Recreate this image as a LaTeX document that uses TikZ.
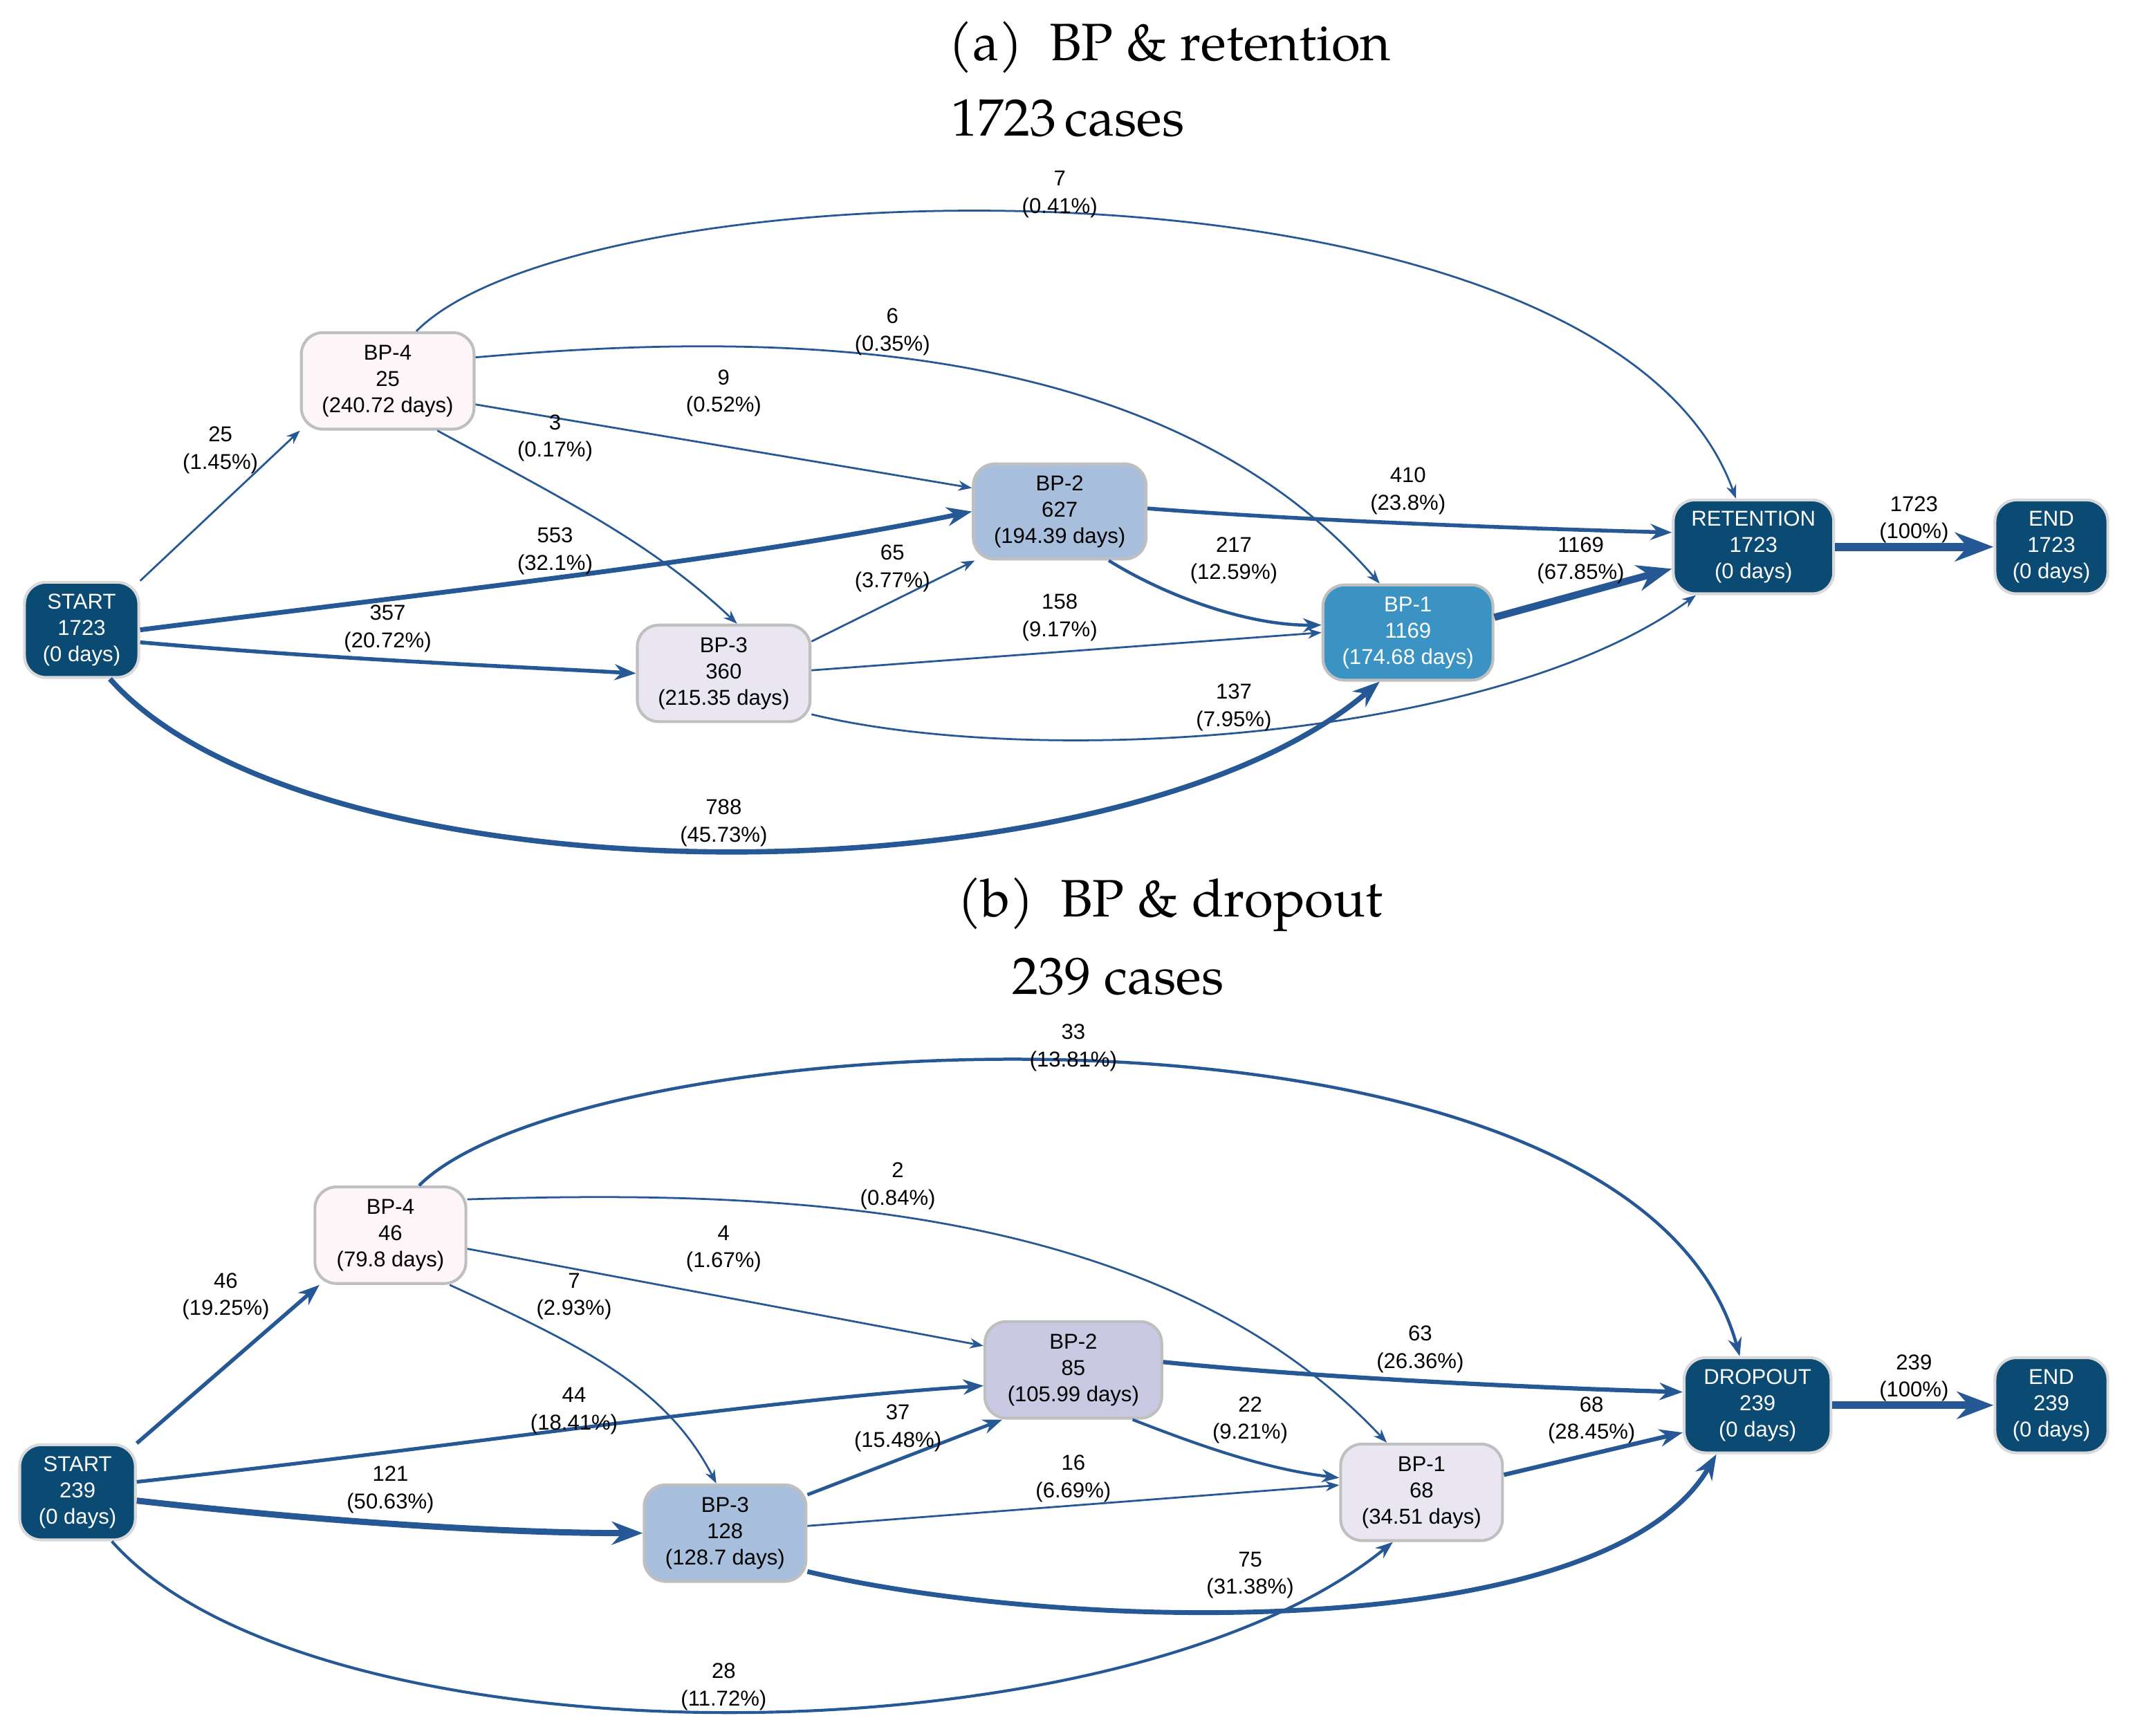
\documentclass[tikz,border=0pt]{standalone}
\usepackage{fontspec}
\setmainfont{Liberation Sans}
\newfontfamily\titlefont{TeX Gyre Pagella}
\usetikzlibrary{arrows.meta}
\definecolor{dark}{RGB}{10,74,115}
\definecolor{edge}{RGB}{38,88,150}
\definecolor{cpink}{RGB}{253,245,248}
\definecolor{cblue}{RGB}{168,190,221}
\definecolor{clav}{RGB}{233,230,242}
\definecolor{cmid}{RGB}{58,147,195}
\definecolor{cvio}{RGB}{201,201,227}
\begin{document}
\begin{tikzpicture}[x=0.02cm,y=0.02cm,
  box/.style={draw=black!25,line width=1.2pt,rounded corners=9pt,align=center,font=\fontsize{9}{11}\selectfont,inner sep=0pt},
  dk/.style={box,fill=dark,text=white,draw=black!15},
  lbl/.style={align=center,font=\fontsize{9}{11.5}\selectfont,inner sep=1pt},
  e/.style={draw=edge,line width=#1,-{Stealth[length=2.5pt 4]}},
  e/.default=0.8pt,
  ttl/.style={font=\titlefont\fontsize{22}{26}\selectfont}]
\useasboundingbox (0,0) rectangle (1568,-1276);
% titles
\node[ttl] (ta) at (860,-35) {(a)\ \ BP \& retention};
\node[ttl] (tca) at (785,-87) {1723\,cases};
\node[ttl] (tb) at (860,-665) {(b)\ \ BP \& dropout};
\node[ttl] (tcb) at (822,-718) {239 cases};
% ===== part a nodes
\node[dk,minimum width=84\pgfkeysvalueof{/pgf/x},minimum width=1.68cm,minimum height=1.4cm] (sa) at (60,-463) {START\\1723\\(0 days)};
\node[box,fill=cpink,minimum width=2.54cm,minimum height=1.42cm] (b4a) at (285,-280) {BP-4\\25\\(240.72 days)};
\node[box,fill=cblue,minimum width=2.54cm,minimum height=1.4cm] (b2a) at (779,-376) {BP-2\\627\\(194.39 days)};
\node[box,fill=clav,minimum width=2.54cm,minimum height=1.42cm] (b3a) at (532,-495) {BP-3\\360\\(215.35 days)};
\node[box,fill=cmid,text=white,minimum width=2.5cm,minimum height=1.4cm] (b1a) at (1035,-465) {BP-1\\1169\\(174.68 days)};
\node[dk,minimum width=2.36cm,minimum height=1.38cm] (ra) at (1289,-402) {RETENTION\\1723\\(0 days)};
\node[dk,minimum width=1.66cm,minimum height=1.38cm] (ea) at (1508,-402) {END\\1723\\(0 days)};
% part a edges
\draw[e] (sa.north east) -- (b4a.south west);
\draw[e=2pt] (sa.east) ++(0,0) .. controls (350,-432) and (550,-410) .. (b2a.west);
\draw[e=1.6pt] (sa.-12) .. controls (250,-485) and (380,-490) .. (b3a.west);
\draw[e=2.2pt] (sa.-60) .. controls (230,-667) and (820,-667) .. (b1a.-120);
\draw[e] (b4a.60) .. controls (430,-118) and (1180,-100) .. (ra.110);
\draw[e] (b4a.15) .. controls (550,-245) and (850,-240) .. (b1a.120);
\draw[e] (b4a.-15) -- (b2a.165);
\draw[e] (b4a.-45) .. controls (420,-370) and (480,-400) .. (b3a.75);
\draw[e] (b3a.20) -- (b2a.-150);
\draw[e] (b3a.2) -- (b1a.west);
\draw[e] (b3a.-25) .. controls (760,-565) and (1100,-545) .. (ra.-140);
\draw[e=1.6pt] (b2a.2) .. controls (950,-382) and (1100,-388) .. (ra.170);
\draw[e=1.3pt] (b2a.-45) .. controls (860,-440) and (920,-460) .. (b1a.175);
\draw[e=3pt] (b1a.10) -- (ra.-165);
\draw[e=3.4pt] (ra.east) -- (ea.west);
% part a labels
\node[lbl] (la1) at (162,-331) {25\\(1.45\%)};
\node[lbl] (la2) at (408,-405) {553\\(32.1\%)};
\node[lbl] (la3) at (285,-462) {357\\(20.72\%)};
\node[lbl] (la4) at (532,-605) {788\\(45.73\%)};
\node[lbl] (la5) at (779,-143) {7\\(0.41\%)};
\node[lbl] (la6) at (656,-244) {6\\(0.35\%)};
\node[lbl] (la7) at (532,-289) {9\\(0.52\%)};
\node[lbl] (la8) at (408,-322) {3\\(0.17\%)};
\node[lbl] (la9) at (656,-418) {65\\(3.77\%)};
\node[lbl] (la10) at (779,-454) {158\\(9.17\%)};
\node[lbl] (la11) at (907,-520) {137\\(7.95\%)};
\node[lbl] (la12) at (1035,-361) {410\\(23.8\%)};
\node[lbl] (la13) at (907,-412) {217\\(12.59\%)};
\node[lbl] (la14) at (1162,-412) {1169\\(67.85\%)};
\node[lbl] (la15) at (1407,-382) {1723\\(100\%)};
% ===== part b nodes
\node[dk,minimum width=1.7cm,minimum height=1.4cm] (sb) at (57,-1097) {START\\239\\(0 days)};
\node[box,fill=cpink,minimum width=2.22cm,minimum height=1.42cm] (b4b) at (287,-908) {BP-4\\46\\(79.8 days)};
\node[box,fill=cvio,minimum width=2.6cm,minimum height=1.42cm] (b2b) at (789,-1007) {BP-2\\85\\(105.99 days)};
\node[box,fill=cblue,minimum width=2.38cm,minimum height=1.42cm] (b3b) at (533,-1127) {BP-3\\128\\(128.7 days)};
\node[box,fill=clav,minimum width=2.38cm,minimum height=1.42cm] (b1b) at (1045,-1097) {BP-1\\68\\(34.51 days)};
\node[dk,minimum width=2.16cm,minimum height=1.4cm] (db) at (1292,-1033) {DROPOUT\\239\\(0 days)};
\node[dk,minimum width=1.66cm,minimum height=1.4cm] (eb) at (1508,-1033) {END\\239\\(0 days)};
% part b edges
\draw[e=1.6pt] (sb.north east) -- (b4b.-145);
\draw[e=1.5pt] (sb.10) .. controls (350,-1062) and (550,-1030) .. (b2b.-170);
\draw[e=2.6pt] (sb.-8) .. controls (250,-1120) and (380,-1127) .. (b3b.west);
\draw[e=1.2pt] (sb.-55) .. controls (230,-1300) and (820,-1300) .. (b1b.-120);
\draw[e=1.3pt] (b4b.60) .. controls (430,-750) and (1200,-710) .. (db.110);
\draw[e] (b4b.25) .. controls (560,-875) and (850,-880) .. (b1b.125);
\draw[e] (b4b.-10) -- (b2b.165);
\draw[e] (b4b.-40) .. controls (430,-990) and (490,-1020) .. (b3b.100);
\draw[e=1.4pt] (b3b.25) -- (b2b.-145);
\draw[e] (b3b.5) -- (b1b.175);
\draw[e=2pt] (b3b.-25) .. controls (780,-1200) and (1180,-1210) .. (db.-130);
\draw[e=1.8pt] (b2b.5) .. controls (960,-1012) and (1120,-1020) .. (db.170);
\draw[e=1.2pt] (b2b.-40) .. controls (880,-1062) and (930,-1080) .. (b1b.170);
\draw[e=1.8pt] (b1b.12) -- (db.-160);
\draw[e=3.2pt] (db.east) -- (eb.west);
% part b labels
\node[lbl] (lb1) at (166,-953) {46\\(19.25\%)};
\node[lbl] (lb2) at (422,-1037) {44\\(18.41\%)};
\node[lbl] (lb3) at (287,-1095) {121\\(50.63\%)};
\node[lbl] (lb4) at (532,-1240) {28\\(11.72\%)};
\node[lbl] (lb5) at (789,-770) {33\\(13.81\%)};
\node[lbl] (lb6) at (660,-872) {2\\(0.84\%)};
\node[lbl] (lb7) at (532,-918) {4\\(1.67\%)};
\node[lbl] (lb8) at (422,-953) {7\\(2.93\%)};
\node[lbl] (lb9) at (660,-1050) {37\\(15.48\%)};
\node[lbl] (lb10) at (789,-1087) {16\\(6.69\%)};
\node[lbl] (lb11) at (919,-1158) {75\\(31.38\%)};
\node[lbl] (lb12) at (1044,-992) {63\\(26.36\%)};
\node[lbl] (lb13) at (919,-1044) {22\\(9.21\%)};
\node[lbl] (lb14) at (1170,-1044) {68\\(28.45\%)};
\node[lbl] (lb15) at (1407,-1013) {239\\(100\%)};
\end{tikzpicture}
\end{document}
